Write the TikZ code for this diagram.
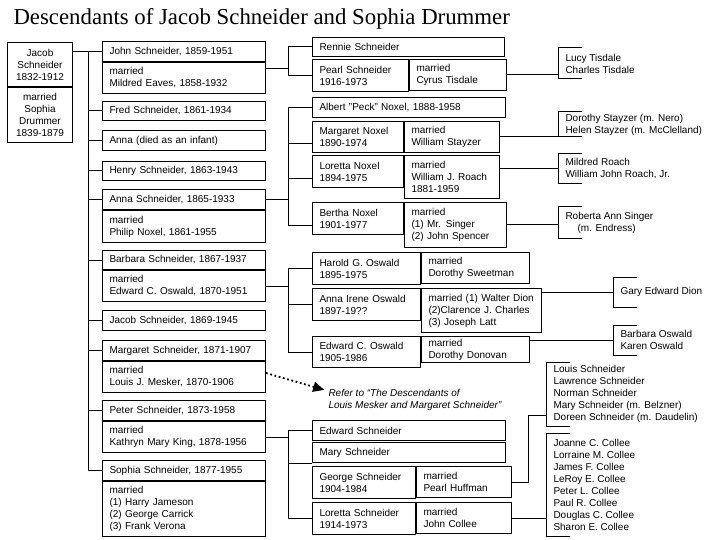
\documentclass[tikz,border=0pt]{standalone}
\usepackage{fontspec}
\setmainfont{Liberation Serif}
\setsansfont{Liberation Sans}
\usetikzlibrary{arrows.meta}

\begin{document}
\begin{tikzpicture}[
x=1pt, y=-1pt, line width=1pt,
person/.style={draw, anchor=north west, inner xsep=7pt, inner ysep=0pt, align=left, font=\sffamily\fontsize{10}{12}\selectfont},
child/.style={person, text width=149pt},
kids/.style={anchor=north west, inner xsep=7pt, inner ysep=0pt, align=left, font=\sffamily\fontsize{10}{12}\selectfont},
refer/.style={anchor=west, inner sep=0pt, align=left, font=\sffamily\itshape\fontsize{10}{12}\selectfont},
referarrow/.style={line width=1.8pt, dash pattern=on 1.8pt off 2.6pt, -{Triangle[length=11pt,width=10pt]}, shorten >=4pt} ]

\useasboundingbox (0,0) rectangle (720,540);

\node[anchor=base west, inner sep=0pt, font=\fontsize{22.8}{27}\selectfont] (title) at (13,25) {Descendants of Jacob Schneider and Sophia Drummer};

\node[person, align=center, text width=55pt, inner xsep=5pt, minimum height=44pt] (jacob) at (7,42) {Jacob\\Schneider\\1832-1912};
\node[person, align=center, text width=55pt, inner xsep=5pt, minimum height=55pt] (jacobm) at (jacob.south west) {married\\Sophia\\Drummer\\1839-1879};

\node[child, minimum height=20pt] (john) at (102,41) {John Schneider, 1859-1951};
\node[child, minimum height=31pt] (johnm) at (john.south west) {married\\Mildred Eaves, 1858-1932};
\node[child, minimum height=19pt] (fred) at (102,101) {Fred Schneider, 1861-1934};
\node[child, minimum height=20pt] (annainf) at (102,130) {Anna (died as an infant)};
\node[child, minimum height=19pt] (henry) at (102,161) {Henry Schneider, 1863-1943};
\node[child, minimum height=20pt] (anna) at (102,189) {Anna Schneider, 1865-1933};
\node[child, minimum height=32pt] (annam) at (anna.south west) {married\\Philip Noxel, 1861-1955};
\node[child, minimum height=19pt] (barbara) at (102,250) {Barbara Schneider, 1867-1937};
\node[child, minimum height=31pt] (barbaram) at (102,270) {married\\Edward C. Oswald, 1870-1951};
\node[child, minimum height=20pt] (jacobj) at (102,310) {Jacob Schneider, 1869-1945};
\node[child, minimum height=20pt] (margaret) at (102,340) {Margaret Schneider, 1871-1907};
\node[child, minimum height=31pt] (margaretm) at (102,361) {married\\Louis J. Mesker, 1870-1906};
\node[child, minimum height=20pt] (peter) at (102,400) {Peter Schneider, 1873-1958};
\node[child, minimum height=31pt] (peterm) at (peter.south west) {married\\Kathryn Mary King, 1878-1956};
\node[child, minimum height=20pt] (sophia) at (102,460) {Sophia Schneider, 1877-1955};
\node[child, minimum height=55pt] (sophiam) at (sophia.south west) {married\\(1) Harry Jameson\\(2) George Carrick\\(3) Frank Verona};

\node[person, text width=178pt, minimum height=19pt] (rennie) at (312,37) {Rennie Schneider};
\node[person, text width=82pt, minimum height=32pt] (pearl) at (312,59) {Pearl Schneider\\1916-1973};
\node[person, text width=83pt, minimum height=31pt] (pearlm) at (pearl.north east) {married\\Cyrus Tisdale};

\node[person, text width=179pt, minimum height=20pt] (albert) at (312,97) {Albert "Peck" Noxel, 1888-1958};
\node[person, text width=77pt, minimum height=31pt] (margn) at (312,121) {Margaret Noxel\\1890-1974};
\node[person, text width=81pt, minimum height=31pt] (margnm) at (margn.north east) {married\\William Stayzer};
\node[person, text width=77pt, minimum height=32pt] (loretn) at (312,155) {Loretta Noxel\\1894-1975};
\node[person, text width=81pt, minimum height=43pt] (loretnm) at (loretn.north east) {married\\William J. Roach\\1881-1959};
\node[person, text width=77pt, minimum height=32pt] (bertha) at (312,202) {Bertha Noxel\\1901-1977};
\node[person, text width=88pt, minimum height=45pt] (berthm) at (bertha.north east) {married\\(1) Mr. Singer\\(2) John Spencer};

\node[person, text width=94pt, minimum height=32pt] (harold) at (312,252) {Harold G. Oswald\\1895-1975};
\node[person, text width=94pt, minimum height=31pt] (haroldm) at (harold.north east) {married\\Dorothy Sweetman};
\node[person, text width=94pt, minimum height=32pt] (annairene) at (312,288) {Anna Irene Oswald\\1897-19??};
\node[person, text width=106pt, minimum height=44pt] (annairenem) at (annairene.north east) {married (1) Walter Dion\\(2)Clarence J. Charles\\(3) Joseph Latt};
\node[person, text width=94pt, minimum height=31pt] (edwardo) at (312,336) {Edward C. Oswald\\1905-1986};
\node[person, text width=94pt, minimum height=26pt] (edwardom) at (edwardo.north east) {married\\Dorothy Donovan};

\node[person, text width=179pt, minimum height=20pt] (edwards) at (312,420) {Edward Schneider};
\node[person, text width=179pt, minimum height=20pt] (marys) at (312,442) {Mary Schneider};
\node[person, text width=89pt, minimum height=32pt] (george) at (312,466) {George Schneider\\1904-1984};
\node[person, text width=81pt, minimum height=31pt] (georgem) at (george.north east) {married\\Pearl Huffman};
\node[person, text width=89pt, minimum height=32pt] (loretts) at (312,502) {Loretta Schneider\\1914-1973};
\node[person, text width=81pt, minimum height=31pt] (lorettsm) at (loretts.north east) {married\\John Collee};

\node[kids, minimum height=30pt] (tisdale) at (558,48) {Lucy Tisdale\\Charles Tisdale};
\node[kids, minimum height=24pt] (stayzer) at (558,112) {Dorothy Stayzer (m. Nero)\\Helen Stayzer (m. McClelland)};
\node[kids, minimum height=29pt] (roach) at (558,154) {Mildred Roach\\William John Roach, Jr.};
\node[kids, minimum height=30pt] (singer) at (558,207) {Roberta Ann Singer\\\hspace*{12pt}(m. Endress)};
\node[kids, minimum height=29pt] (dion) at (613,277) {Gary Edward Dion};
\node[kids, minimum height=29pt] (oswald) at (613,325) {Barbara Oswald\\Karen Oswald};
\node[kids, minimum height=63pt] (louis) at (546,362) {Louis Schneider\\Lawrence Schneider\\Norman Schneider\\Mary Schneider (m. Belzner)\\Doreen Schneider (m. Daudelin)};
\node[kids, minimum height=102pt] (collee) at (546,433) {Joanne C. Collee\\Lorraine M. Collee\\James F. Collee\\LeRoy E. Collee\\Peter L. Collee\\Paul R. Collee\\Douglas C. Collee\\Sharon E. Collee};

\node[refer] (refer) at (328,400) {Refer to “The Descendants of\\Louis Mesker and Margaret Schneider”};

\coordinate (trunk) at (88,0);
\coordinate (g3) at (288,0);
\coordinate (lj) at (528,415);

\draw (jacob.east |- john.west) -- (trunk |- john.west);
\draw (trunk |- john.west) -- (trunk |- sophia.west);
\foreach \k in {john,fred,annainf,henry,anna,barbara,jacobj,margaret,peter,sophia}
  \draw (trunk |- \k.west) -- (\k.west);

\draw ([yshift=9pt]johnm.east) -- +(23,0);
\draw (rennie.west) -- (rennie.west -| g3) |- (pearl.west);

\draw (anna.east) -- (anna.east -| g3);
\draw (albert.west) -- (albert.west -| g3) |- ([yshift=-7pt]bertha.west);
\draw (margn.west) ++(0,7) -- +(-24,0);
\draw (loretn.west) ++(0,7) -- +(-24,0);

\draw (barbaram.east) -- (barbaram.east -| g3);
\draw (harold.west) -- (harold.west -| g3) |- (edwardo.west);
\draw (annairene.west) -- (annairene.west -| g3);

\draw (peterm.east) -- (peterm.east -| g3);
\draw (edwards.west) -- (edwards.west -| g3) |- (loretts.west);
\draw (marys.south west) -- (marys.south west -| g3);

\foreach \k in {tisdale,stayzer,roach,singer,dion,oswald,louis,collee}
  \draw ([xshift=24pt]\k.north west) -- (\k.north west) -- (\k.south west) -- ([xshift=24pt]\k.south west);

\draw (pearlm.east) -- (pearlm.east -| tisdale.west);
\draw (margnm.east) -- (margnm.east -| stayzer.west);
\draw (roach.west -| loretnm.east) -- (roach.west);
\draw (berthm.east) -- (berthm.east -| singer.west);
\draw (dion.west -| annairenem.east) -- (dion.west);
\draw (oswald.west -| edwardom.east) -- (oswald.west);
\draw (georgem.east) -| (lj) -- (lj -| louis.west);
\draw (lorettsm.east) -- (lorettsm.east -| collee.west);

\draw[referarrow] ([yshift=4pt]margaretm.east) -- ([yshift=9pt]refer.west);

\end{tikzpicture}
\end{document}
